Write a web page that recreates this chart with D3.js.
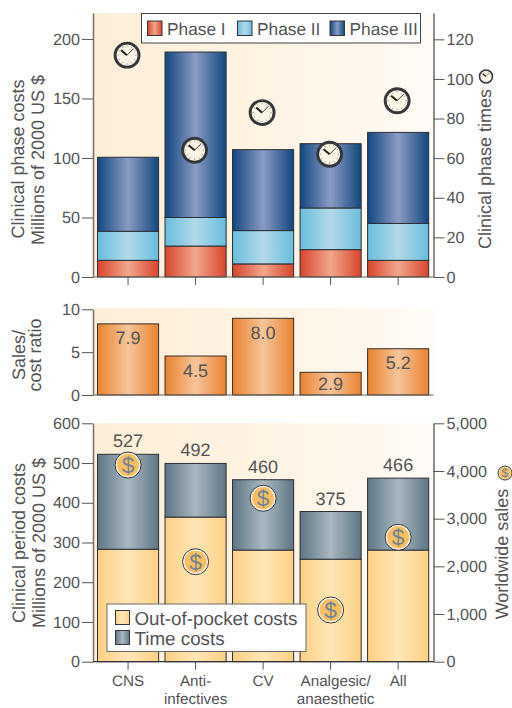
<!DOCTYPE html>
<html>
<head>
<meta charset="utf-8">
<script src="https://cdn.jsdelivr.net/npm/d3@7"></script>
<style>
  html, body { margin: 0; padding: 0; background: #fff; }
  svg { display: block; text-rendering: geometricPrecision; }
  text { font-family: "Liberation Sans", Arial, sans-serif; fill: #545456; }
</style>
</head>
<body>
<div id="chart-area"></div>
<script>
// data
var categories = ["CNS", "Anti-infectives", "CV", "Analgesic/anaesthetic", "All"];
var categoryLines = [["CNS"], ["Anti-", "infectives"], ["CV"], ["Analgesic/", "anaesthetic"], ["All"]];

var phaseI = [14, 26, 11, 23, 14];
var phaseII = [24.4, 24, 28, 35, 31];
var phaseIII = [62.2, 139, 68, 54, 76.5];
var phaseTimes = [112, 64, 83, 62, 89];

var ratioHeights = [8.3, 4.55, 8.95, 2.65, 5.4];
var ratioLabels = ["7.9", "4.5", "8.0", "2.9", "5.2"];

var outOfPocket = [283, 364, 281, 258, 281];
var timeCosts = [239, 135, 177, 120, 181];
var periodLabels = ["527", "492", "460", "375", "466"];
var worldwideSales = [4125, 2097, 3427, 1084, 2609];

var phaseTicks = [0, 50, 100, 150, 200];
var timeTicks = [0, 20, 40, 60, 80, 100, 120];
var ratioTicks = [0, 5, 10];
var periodTicks = [0, 100, 200, 300, 400, 500, 600];
var salesTicks = [0, 1000, 2000, 3000, 4000, 5000];

var width = 512;
var height = 708;
var left = 93;
var right = 433.5;

var svg = d3.select("#chart-area").append("svg")
  .attr("width", width)
  .attr("height", height);

var defs = svg.append("defs");

function barGradient(id, edge, middle) {
  var grad = defs.append("linearGradient").attr("id", id);
  grad.append("stop").attr("offset", "0%").attr("stop-color", edge);
  grad.append("stop").attr("offset", "50%").attr("stop-color", middle);
  grad.append("stop").attr("offset", "100%").attr("stop-color", edge);
}
barGradient("g-phase1", "#d8442c", "#f0a78c");
barGradient("g-phase2", "#69bddc", "#b2d9ea");
barGradient("g-phase3", "#12477f", "#8b9bc3");
barGradient("g-ratio", "#e98230", "#f6c59a");
barGradient("g-oop", "#fdd083", "#fee6b8");
barGradient("g-time", "#5e7686", "#a9b7bf");

var bgGrad = defs.append("linearGradient").attr("id", "g-bg");
bgGrad.append("stop").attr("offset", "0%").attr("stop-color", "#fdeed7");
bgGrad.append("stop").attr("offset", "50%").attr("stop-color", "#fff3e3");
bgGrad.append("stop").attr("offset", "100%").attr("stop-color", "#fffbf6");

var x = d3.scaleBand()
  .domain(categories)
  .range([97.5, 428.7])
  .paddingInner(0.095)
  .paddingOuter(0);

var yPhase = d3.scaleLinear().domain([0, 221.8]).range([277, 13]);
var yTime = d3.scaleLinear().domain([0, 133.3]).range([277, 13]);
var yRatio = d3.scaleLinear().domain([0, 10]).range([395, 309.3]);
var yPeriod = d3.scaleLinear().domain([0, 600]).range([661.7, 423.3]);
var ySales = d3.scaleLinear().domain([0, 5000]).range([661.7, 423.3]);

function background(top, bottom) {
  svg.append("rect")
    .attr("x", left)
    .attr("y", top)
    .attr("width", right - left + 1)
    .attr("height", bottom - top)
    .attr("fill", "url(#g-bg)");
}
background(13, 277);
background(308, 395);
background(423.3, 661.7);

function stackedBars(rows, keys, fills, y) {
  var layers = d3.stack().keys(keys)(rows);
  layers.forEach(function(layer, i) {
    svg.append("g").selectAll("rect")
      .data(layer)
      .enter().append("rect")
      .attr("x", function(d) { return x(d.data.category); })
      .attr("y", function(d) { return y(d[1]); })
      .attr("width", x.bandwidth())
      .attr("height", function(d) { return y(d[0]) - y(d[1]); })
      .attr("fill", fills[i])
      .attr("stroke", "#2b2f36")
      .attr("stroke-width", 1);
  });
}

var phaseRows = categories.map(function(c, i) {
  return {category: c, p1: phaseI[i], p2: phaseII[i], p3: phaseIII[i]};
});
var periodRows = categories.map(function(c, i) {
  return {category: c, oop: outOfPocket[i], time: timeCosts[i]};
});

stackedBars(phaseRows, ["p1", "p2", "p3"], ["url(#g-phase1)", "url(#g-phase2)", "url(#g-phase3)"], yPhase);
stackedBars(periodRows, ["oop", "time"], ["url(#g-oop)", "url(#g-time)"], yPeriod);

svg.append("g").selectAll("rect")
  .data(ratioHeights)
  .enter().append("rect")
  .attr("x", function(d, i) { return x(categories[i]); })
  .attr("y", function(d) { return yRatio(d); })
  .attr("width", x.bandwidth())
  .attr("height", function(d) { return yRatio(0) - yRatio(d); })
  .attr("fill", "url(#g-ratio)")
  .attr("stroke", "#3a3028")
  .attr("stroke-width", 1);

// value labels
svg.append("g").selectAll("text")
  .data(ratioLabels)
  .enter().append("text")
  .attr("x", function(d, i) { return x(categories[i]) + x.bandwidth() / 2; })
  .attr("y", function(d, i) { return yRatio(ratioHeights[i]) + (i == 3 ? 18 : 20.5); })
  .attr("text-anchor", "middle")
  .attr("font-size", "18px")
  .text(function(d) { return d; });

svg.append("g").selectAll("text")
  .data(periodLabels)
  .enter().append("text")
  .attr("x", function(d, i) { return x(categories[i]) + x.bandwidth() / 2; })
  .attr("y", function(d, i) { return yPeriod(outOfPocket[i] + timeCosts[i]) - 7; })
  .attr("text-anchor", "middle")
  .attr("font-size", "18px")
  .text(function(d) { return d; });

// axes
function styleAxis(sel, color) {
  sel.select(".domain").attr("stroke", color).attr("stroke-width", 1.5);
  sel.selectAll(".tick line").attr("stroke", "#555").attr("stroke-width", 1);
  sel.selectAll(".tick text").attr("font-size", "16.2px").attr("font-family", "Liberation Sans").style("fill", "#545456");
}

function leftAxis(y, ticks) {
  var g = svg.append("g").attr("transform", "translate(" + left + ",0)")
    .call(d3.axisLeft(y).tickValues(ticks).tickSize(11).tickSizeOuter(0).tickPadding(2));
  styleAxis(g, "#7a7166");
}

function rightAxis(y, ticks, format) {
  var g = svg.append("g").attr("transform", "translate(" + right + ",0)")
    .call(d3.axisRight(y).tickValues(ticks).tickSize(11).tickSizeOuter(0).tickPadding(2).tickFormat(format));
  styleAxis(g, "#6a6a6a");
}

leftAxis(yPhase, phaseTicks);
leftAxis(yRatio, ratioTicks);
leftAxis(yPeriod, periodTicks);
rightAxis(yTime, timeTicks, d3.format("d"));
rightAxis(ySales, salesTicks, d3.format(","));

[yPhase(0), yRatio(0), yPeriod(0)].forEach(function(b, i) {
  svg.append("line")
    .attr("x1", left).attr("x2", right)
    .attr("y1", b).attr("y2", b)
    .attr("stroke", i == 2 ? "#333" : "#6f665c")
    .attr("stroke-width", 1.2);
});

// category ticks, top and bottom panels
var topAxis = svg.append("g").attr("transform", "translate(0," + yPhase(0) + ")")
  .call(d3.axisBottom(x).tickSize(8).tickSizeOuter(0).tickFormat(""));
topAxis.select(".domain").remove();
topAxis.selectAll(".tick line").attr("stroke", "#555");

var bottomAxis = svg.append("g").attr("transform", "translate(0," + yPeriod(0) + ")")
  .call(d3.axisBottom(x).tickSize(8).tickSizeOuter(0).tickFormat(""));
bottomAxis.select(".domain").remove();
bottomAxis.selectAll(".tick line").attr("stroke", "#555");

bottomAxis.selectAll(".tick").each(function(d, i) {
  var label = d3.select(this).append("text")
    .attr("text-anchor", "middle")
    .attr("font-size", "15.2px");
  categoryLines[i].forEach(function(line, j) {
    label.append("tspan")
      .attr("x", i == 3 ? 5 : 0)
      .attr("y", 24 + j * 18.8)
      .text(line);
  });
});

// axis titles
function rotatedTitle(text, baseX, midY) {
  svg.append("text")
    .attr("transform", "translate(" + baseX + "," + midY + ") rotate(-90)")
    .attr("text-anchor", "middle")
    .attr("font-size", "18px")
    .text(text);
}
rotatedTitle("Clinical phase costs", 24, 159);
rotatedTitle("Millions of 2000 US $", 44, 160);
rotatedTitle("Sales/", 25, 355);
rotatedTitle("cost ratio", 41, 355);
rotatedTitle("Clinical period costs", 25, 543);
rotatedTitle("Millions of 2000 US $", 45, 543);
rotatedTitle("Clinical phase times", 491, 169);
rotatedTitle("Worldwide sales", 508, 554);

// icons
function drawClock(g, r) {
  g.append("circle").attr("r", r).attr("fill", "#fdf6e6")
    .attr("stroke", "#34383c").attr("stroke-width", r * 0.24);
  d3.range(12).forEach(function(h) {
    var a = h * Math.PI / 6;
    g.append("line")
      .attr("x1", Math.sin(a) * r * 0.68).attr("y1", -Math.cos(a) * r * 0.68)
      .attr("x2", Math.sin(a) * r * 0.8).attr("y2", -Math.cos(a) * r * 0.8)
      .attr("stroke", "#999").attr("stroke-width", r * 0.08);
  });
  g.append("line").attr("x1", 0).attr("y1", 0)
    .attr("x2", -r * 0.5).attr("y2", -r * 0.42)
    .attr("stroke", "#222").attr("stroke-width", r * 0.17);
  g.append("line").attr("x1", 0).attr("y1", 0)
    .attr("x2", r * 0.55).attr("y2", -r * 0.55)
    .attr("stroke", "#333").attr("stroke-width", r * 0.08);
}

function drawDollar(g, r) {
  g.append("circle").attr("r", r).attr("fill", "#fff")
    .attr("stroke", "#333").attr("stroke-width", 1);
  g.append("circle").attr("r", r * 0.86).attr("fill", "#fbbf63");
  g.append("text")
    .attr("text-anchor", "middle")
    .attr("y", r * 0.62)
    .attr("font-size", (r * 1.75) + "px")
    .style("fill", "#6f8494")
    .text("$");
}

svg.append("g").selectAll("g")
  .data(phaseTimes)
  .enter().append("g")
  .attr("transform", function(d, i) {
    return "translate(" + (x(categories[i]) + x.bandwidth() / 2 - 1) + "," + yTime(d) + ")";
  })
  .each(function() { drawClock(d3.select(this), 12); });

svg.append("g").selectAll("g")
  .data(worldwideSales)
  .enter().append("g")
  .attr("transform", function(d, i) {
    return "translate(" + (x(categories[i]) + x.bandwidth() / 2) + "," + ySales(d) + ")";
  })
  .each(function() { drawDollar(d3.select(this), 13); });

drawClock(svg.append("g").attr("transform", "translate(486,76.5)"), 6.5);
drawDollar(svg.append("g").attr("transform", "translate(505,473)"), 7);

// legends
var phaseLegendNames = ["Phase I", "Phase II", "Phase III"];
var phaseLegendFills = ["url(#g-phase1)", "url(#g-phase2)", "url(#g-phase3)"];
var phaseLegendX = [147.5, 237.5, 330];
var periodLegendNames = ["Out-of-pocket costs", "Time costs"];
var periodLegendFills = ["url(#g-oop)", "url(#g-time)"];

svg.append("rect")
  .attr("x", 141.5).attr("y", 13.5)
  .attr("width", 279).attr("height", 29.5)
  .attr("fill", "#fff").attr("stroke", "#444").attr("stroke-width", 1);

phaseLegendNames.forEach(function(name, i) {
  svg.append("rect")
    .attr("x", phaseLegendX[i]).attr("y", 21)
    .attr("width", 14.5).attr("height", 14.5)
    .attr("fill", phaseLegendFills[i])
    .attr("stroke", "#33373c");
  svg.append("text")
    .attr("x", phaseLegendX[i] + 19.5)
    .attr("y", 35)
    .attr("font-size", "17.3px")
    .text(name);
});

svg.append("rect")
  .attr("x", 107).attr("y", 604)
  .attr("width", 199).attr("height", 47.5)
  .attr("fill", "#fff").attr("stroke", "#6a6a6a").attr("stroke-width", 1);

periodLegendNames.forEach(function(name, i) {
  svg.append("rect")
    .attr("x", 115.5).attr("y", 610.5 + i * 20)
    .attr("width", 14).attr("height", 14)
    .attr("fill", periodLegendFills[i])
    .attr("stroke", "#33373c");
  svg.append("text")
    .attr("x", 134.5)
    .attr("y", 625 + i * 20)
    .attr("font-size", "18.8px")
    .text(name);
});
</script>
</body>
</html>
